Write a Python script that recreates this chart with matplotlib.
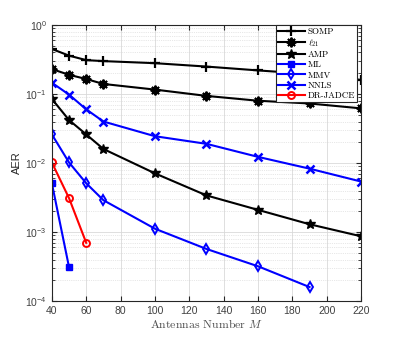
import matplotlib.pyplot as plt
import numpy as np

plt.rcParams['mathtext.fontset'] = 'cm'

M = [40, 50, 60, 70, 100, 130, 160, 190, 220]
somp = [0.45, 0.36, 0.31, 0.30, 0.28, 0.25, 0.22, 0.195, 0.16]
l21 = [0.23, 0.19, 0.165, 0.14, 0.116, 0.094, 0.08, 0.073, 0.062]
amp = [0.085, 0.042, 0.026, 0.016, 0.0071, 0.0034, 0.0021, 0.0013, 0.00087]
M_ml = [40, 50]
ml = [0.0051, 0.00031]
M_mmv = [40, 50, 60, 70, 100, 130, 160, 190]
mmv = [0.026, 0.0102, 0.0051, 0.0029, 0.00112, 0.00057, 0.00032, 0.00016]
nnls = [0.146, 0.098, 0.06, 0.04, 0.0245, 0.019, 0.0123, 0.0083, 0.0054]
M_dr = [40, 50, 60]
dr = [0.0102, 0.0031, 0.0007]

fig = plt.figure(figsize=(3.99, 3.38), dpi=100)
ax = fig.add_axes([0.130, 0.109, 0.775, 0.817])

lw = 1.5
ax.plot(M, somp, color='k', lw=lw, marker='+', ms=7, mew=1.6, label='SOMP')
ax.plot(M, l21, color='k', lw=lw, marker=(8, 2, 0), ms=7, mew=1.4, label=r'$\ell_{21}$')
ax.plot(M, amp, color='k', lw=lw, marker='*', ms=7, label='AMP')
ax.plot(M_ml, ml, color='b', lw=lw, marker='s', ms=4, label='ML')
ax.plot(M_mmv, mmv, color='b', lw=lw, marker='d', ms=5, mfc='none', mew=1.4, label='MMV')
ax.plot(M, nnls, color='b', lw=lw, marker='x', ms=5.5, mew=1.8, label='NNLS')
ax.plot(M_dr, dr, color='r', lw=lw, marker='o', ms=5, mfc='none', mew=1.4, label='DR-JADCE')

ax.set_yscale('log')
ax.set_xlim(40, 220)
ax.set_ylim(1e-4, 1)
ax.set_xticks(np.arange(40, 221, 20))
ax.grid(True, which='major', color='0.85', lw=0.6)
ax.grid(True, which='minor', color='0.82', lw=0.5, ls=':')
ax.tick_params(which='both', direction='in', top=True, right=True, colors='0.15',
               labelsize=7.5, labelcolor='0.25')
for s in ax.spines.values():
    s.set_color('0.15')
    s.set_linewidth(0.8)
for t in ax.get_xticklabels() + ax.get_yticklabels():
    t.set_fontfamily('Liberation Sans')

ax.set_ylabel('AER', fontsize=8, fontfamily='Liberation Sans', color='0.15', labelpad=2)
ax.set_xlabel(r'Antennas Number $M$', fontsize=8.5, fontfamily='cmr10', color='0.3', labelpad=1)

leg = ax.legend(loc='upper right', bbox_to_anchor=(0.988, 1.0),
                prop={'family': 'cmr10', 'size': 6.5}, fancybox=False,
                edgecolor='0.15', framealpha=1, handlelength=3.0, labelspacing=0.2,
                borderpad=0.25, handletextpad=0.3, borderaxespad=0)
leg.get_frame().set_linewidth(0.8)

plt.savefig('out.png', dpi=100)
